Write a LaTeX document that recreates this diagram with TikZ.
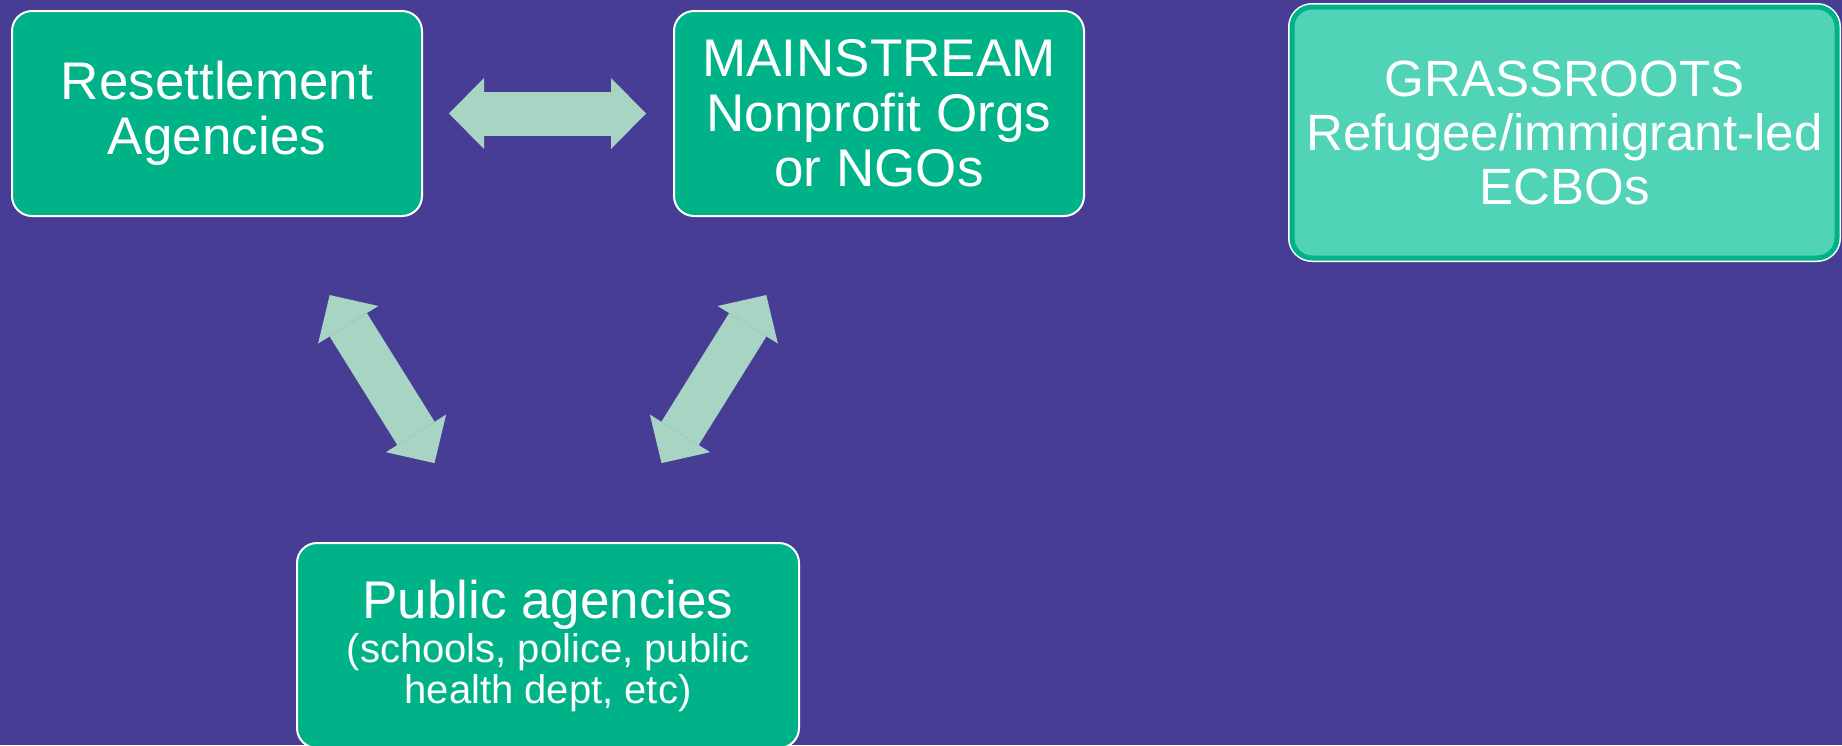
\documentclass[tikz,border=0pt]{standalone}
\usepackage{fontspec}
\setmainfont{Liberation Sans}
\usetikzlibrary{arrows.meta}
\definecolor{slide}{RGB}{72,61,148}
\definecolor{boxgreen}{RGB}{0,178,136}
\definecolor{grassfill}{RGB}{80,211,182}
\definecolor{arrowfill}{RGB}{168,212,196}
\tikzset{%
  orgbox/.style   = {shape=rectangle, rounded corners=20pt,%
                     draw=white, line width=2pt, fill=boxgreen,%
                     text=white, align=center, inner sep=0pt,%
                     minimum width=410pt, minimum height=205pt,%
                     font=\fontsize{53}{55}\selectfont},%
  grassbox/.style = {orgbox, fill=grassfill, draw=boxgreen, line width=5pt,%
                     preaction={draw=white, line width=8pt},%
                     minimum width=545pt, minimum height=251pt,%
                     font=\fontsize{51}{54}\selectfont},%
  twoway/.style   = {draw=arrowfill, line width=44pt,%
                     {Triangle[length=35pt,width=71pt,line width=0pt]}-{Triangle[length=35pt,width=71pt,line width=0pt]}}%
}
\newcommand{\bigtxt}{\fontsize{53}{55}\selectfont}
\begin{document}
\begin{tikzpicture}[x=1pt,y=-1pt]
	\useasboundingbox[fill=slide] (0,0) rectangle (1842,745);
	\node[orgbox]   (resettle)   at (217,113.5) {Resettlement\\Agencies};
	\node[orgbox]   (mainstream) at (879,113.5) {MAINSTREAM\\Nonprofit Orgs\\or NGOs};
	\node[grassbox] (grass)      at (1564.5,132.5) {GRASSROOTS\\Refugee/immigrant-led\\ECBOs};
	\node[orgbox, minimum width=502pt, font=\fontsize{40}{42}\selectfont] (public) at (548,645.5)
		{{\bigtxt Public agencies}\\[2pt](schools, police, public\\[-1pt]health dept, etc)};
	\draw[twoway, shorten <=26pt, shorten >=27pt] (resettle) -- (mainstream);
	\draw[twoway, shorten <=92pt, shorten >=93pt] (resettle) -- (public);
	\draw[twoway, shorten <=92pt, shorten >=93pt] (mainstream) -- (public);
\end{tikzpicture}
\end{document}
